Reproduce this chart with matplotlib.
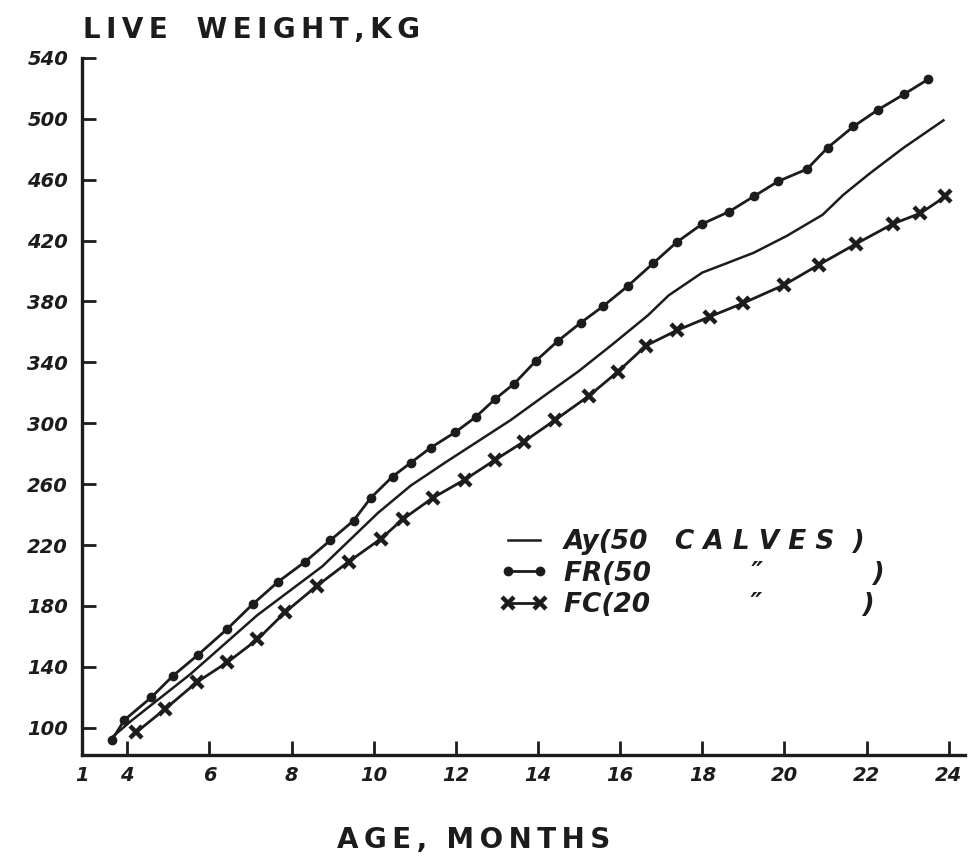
import matplotlib.pyplot as plt
import numpy as np

# values (age in months, live weight in kg)
fr_age = [3.63, 3.93, 4.59, 5.11, 5.73, 6.44, 7.05, 7.68, 8.33, 8.94, 9.51, 9.93,
          10.46, 10.9, 11.39, 11.98, 12.48, 12.96, 13.42, 13.95, 14.48, 15.04, 15.59,
          16.18, 16.8, 17.38, 18.0, 18.65, 19.25, 19.85, 20.55, 21.05, 21.68, 22.28,
          22.9, 23.5]
fr_weight = [92, 105, 120, 134, 148, 165, 181, 196, 209, 223, 236, 251,
             265, 274, 284, 294, 304, 316, 326, 341, 354, 366, 377,
             390, 405, 419, 431, 439, 449, 459, 467, 481, 495, 506,
             516, 526]

ay_age = [3.6, 4.12, 5.53, 7.17, 8.75, 10.1, 10.9, 11.73, 12.53, 13.33, 14.15, 14.98,
          15.82, 16.68, 17.18, 18.0, 18.58, 19.25, 20.05, 20.93, 21.43, 22.07, 22.9,
          23.87]
ay_weight = [93, 105, 135, 174, 206, 241, 259, 274, 288, 302, 318, 334,
             352, 371, 384, 399, 405, 412, 423, 437, 450, 464, 481,
             499]

fc_age = [4.22, 4.91, 5.7, 6.44, 7.17, 7.85, 8.61, 9.39, 10.17, 10.71, 11.44, 12.22,
          12.96, 13.66, 14.41, 15.24, 15.95, 16.63, 17.38, 18.18, 19.0, 20.0, 20.83,
          21.75, 22.64, 23.31, 23.92]
fc_weight = [97, 112, 130, 143, 158, 176, 193, 209, 224, 237, 251, 263,
             276, 288, 302, 318, 334, 351, 361, 370, 379, 391, 404,
             418, 431, 438, 449]

x_ticks = [2.9, 4, 6, 8, 10, 12, 14, 16, 18, 20, 22, 24]
x_labels = ["1", "4", "6", "8", "10", "12", "14", "16", "18", "20", "22", "24"]
y_ticks = [100, 140, 180, 220, 260, 300, 340, 380, 420, 460, 500, 540]

legend_labels = ["Ay(50   C A L V E S  )", "FR(50           \u2033            )",
                 "FC(20           \u2033           )"]

ink = "#1c1c1c"
hand = dict(family="DejaVu Sans", weight="bold", style="italic")


def spaced(s):
    # thin space between the letters, like the stencilled captions
    return "\u2009".join(s)


fig = plt.figure(figsize=(9.72, 8.6), dpi=100)
ax = fig.add_axes([0.0844, 0.122, 0.9086, 0.8106])

l_ay, = ax.plot(ay_age, ay_weight, color=ink, lw=1.8)
l_fr, = ax.plot(fr_age, fr_weight, color=ink, lw=2.0, marker="o", ms=6)
l_fc, = ax.plot(fc_age, fc_weight, color=ink, lw=2.0, marker="x", ms=9, mew=3.2)

ax.set_xlim(2.9, 24.4)
ax.set_ylim(82, 540)
for s in ["top", "right"]:
    ax.spines[s].set_visible(False)
for s in ["left", "bottom"]:
    ax.spines[s].set_linewidth(2.4)
    ax.spines[s].set_color(ink)

ax.set_xticks(x_ticks)
ax.set_xticklabels(x_labels, fontdict=hand, fontsize=14)
ax.set_yticks(y_ticks)
ax.set_yticklabels([str(v) for v in y_ticks], fontdict=hand, fontsize=14)
ax.tick_params(direction="in", length=10, width=2, color=ink, labelcolor=ink)
ax.tick_params(axis="x", pad=8)
ax.tick_params(axis="y", pad=10)

leg = ax.legend([l_ay, l_fr, l_fc], legend_labels, loc="upper left",
                bbox_to_anchor=(0.447, 0.358), frameon=False, numpoints=2,
                handlelength=1.8, handletextpad=0.6, labelspacing=0.2,
                prop=dict(family="DejaVu Sans", weight="bold", style="italic", size=19))
for t in leg.get_texts():
    t.set_color(ink)

fig.text(0.085, 0.956, spaced("LIVE") + "   " + spaced("WEIGHT,KG"), ha="left",
         va="baseline", family="DejaVu Sans", weight="bold", fontsize=20, color=ink)
fig.text(0.347, 0.014, spaced("AGE,") + "  " + spaced("MONTHS"), ha="left",
         va="baseline", family="DejaVu Sans", weight="bold", fontsize=20, color=ink)

fig.savefig("out.png", dpi=100)
